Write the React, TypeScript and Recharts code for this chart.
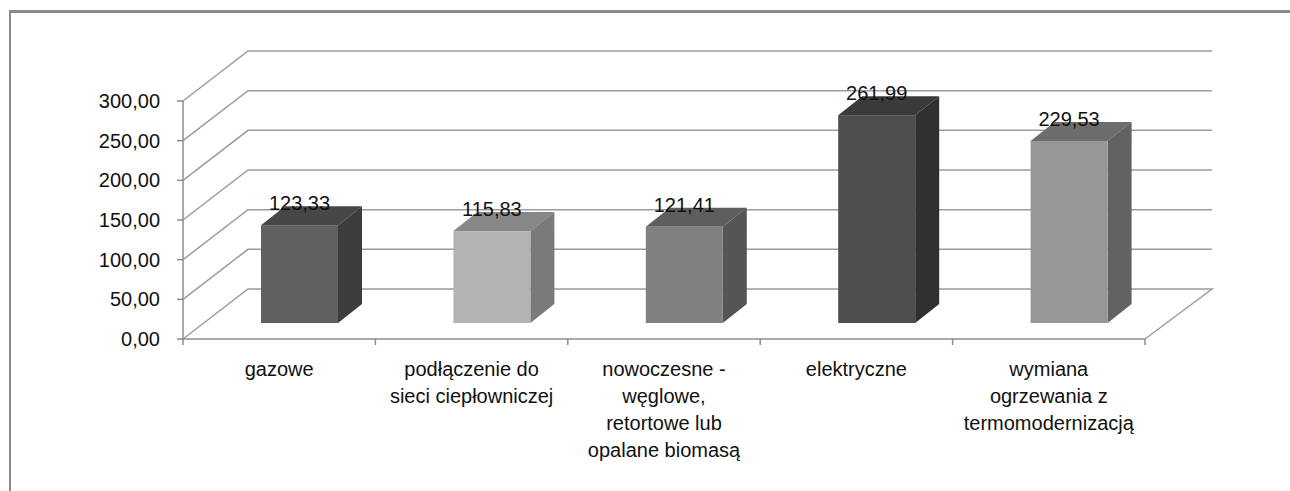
import React from "react";
import { BarChart, Bar, XAxis, YAxis, CartesianGrid, LabelList } from "recharts";

// heating type -> average cost
const categories = [
  "gazowe",
  "podłączenie do\nsieci ciepłowniczej",
  "nowoczesne -\nwęglowe,\nretortowe lub\nopalane biomasą",
  "elektryczne",
  "wymiana\nogrzewania z\ntermomodernizacją",
];
const values = [123.33, 115.83, 121.41, 261.99, 229.53];
const yTicks = [0, 50, 100, 150, 200, 250, 300];

const data = categories.map((name, i) => ({ name, value: values[i] }));

// front / top / side shade of each box
const frontColors = ["#606060", "#b3b3b3", "#808080", "#4e4e4e", "#979797"];
const topColors = ["#474747", "#878787", "#5e5e5e", "#3a3a3a", "#6d6d6d"];
const sideColors = ["#3d3d3d", "#7a7a7a", "#555555", "#303030", "#626262"];

const FONT = "'Liberation Sans', Arial, sans-serif";
const TEXT = "#111111";
const AXIS = "#8c8c8c";
const GRID = "#9c9c9c";

// fake 3d depth
const WALL_DX = 65;
const WALL_RIGHT_DX = 67;
const WALL_DY = 50;
const BAR_DX = 20;
const BAR_DY = 16;
const DEPTH_X = 24;
const DEPTH_Y = 19;

const fmt = (v: number) => v.toFixed(2).replace(".", ",");

const renderGridLine = (props: any) => {
  const { x1, x2, y1, y, height } = props;
  const by = y1 - WALL_DY;
  const isFloor = y1 >= y + height - 0.5;
  let pts = `${x1},${y1} ${x1 + WALL_DX},${by} ${x2 + WALL_RIGHT_DX},${by}`;
  if (isFloor) pts += ` ${x2},${y1}`;
  return <polyline key={props.key} points={pts} fill="none" stroke={GRID} strokeWidth={1.5} />;
};

const Box3D = (props: any) => {
  const { x, y, width, height, index } = props;
  const fx = x + BAR_DX;
  const fy = y - BAR_DY;
  const rx = fx + width;
  return (
    <g>
      <polygon
        points={`${fx},${fy} ${fx + DEPTH_X},${fy - DEPTH_Y} ${rx + DEPTH_X},${fy - DEPTH_Y} ${rx},${fy}`}
        fill={topColors[index]}
      />
      <polygon
        points={`${rx},${fy} ${rx + DEPTH_X},${fy - DEPTH_Y} ${rx + DEPTH_X},${fy + height - DEPTH_Y} ${rx},${fy + height}`}
        fill={sideColors[index]}
      />
      <rect x={fx} y={fy} width={width} height={height} fill={frontColors[index]} />
    </g>
  );
};

const renderValueLabel = (props: any) => {
  const { x, y, width, value } = props;
  return (
    <text
      x={Number(x) + Number(width) / 2 + BAR_DX}
      y={Number(y) - BAR_DY - 15}
      textAnchor="middle"
      fontSize={20}
      fontFamily={FONT}
      fill={TEXT}
    >
      {fmt(Number(value))}
    </text>
  );
};

const CategoryTick = (props: any) => {
  const { x, y, payload, index } = props;
  const half = payload.offset ?? 96.2;
  const lines = String(payload.value).split("\n");
  return (
    <g>
      <line x1={x - half} x2={x - half} y1={y} y2={y + 6} stroke={AXIS} strokeWidth={1.5} />
      {index === categories.length - 1 && (
        <line x1={x + half} x2={x + half} y1={y} y2={y + 6} stroke={AXIS} strokeWidth={1.5} />
      )}
      <text x={x} y={y + 37} textAnchor="middle" fontSize={20} fontFamily={FONT} fill={TEXT}>
        {lines.map((line, i) => (
          <tspan key={i} x={x} dy={i === 0 ? 0 : 27}>
            {line}
          </tspan>
        ))}
      </text>
    </g>
  );
};

export default function App() {
  return (
    <div
      style={{
        position: "fixed",
        left: 0,
        top: 0,
        width: 1290,
        height: 491,
        overflow: "hidden",
        background: "#fff",
      }}
    >
      <div
        style={{
          position: "absolute",
          left: 9,
          top: 10,
          width: 1400,
          height: 600,
          borderTop: "3px solid #8a8a8a",
          borderLeft: "2px solid #8a8a8a",
        }}
      />
      <BarChart
        width={1290}
        height={491}
        data={data}
        margin={{ top: 101, right: 145, bottom: 32, left: 0 }}
        style={{ position: "absolute", left: 0, top: 0 }}
      >
        <CartesianGrid vertical={false} horizontal={renderGridLine} />
        <XAxis
          dataKey="name"
          height={120}
          axisLine={{ stroke: AXIS, strokeWidth: 1.5 }}
          tickLine={false}
          tickSize={0}
          tickMargin={0}
          interval={0}
          tick={<CategoryTick />}
        />
        <YAxis
          width={183}
          domain={[0, 300]}
          ticks={yTicks}
          tickFormatter={fmt}
          axisLine={{ stroke: AXIS, strokeWidth: 1.5 }}
          tickLine={{ stroke: AXIS, strokeWidth: 1.5 }}
          tickSize={6}
          tickMargin={17}
          tick={{ fill: TEXT, fontSize: 20, fontFamily: FONT }}
        />
        <Bar dataKey="value" barSize={77} shape={<Box3D />} isAnimationActive={false}>
          <LabelList dataKey="value" content={renderValueLabel} />
        </Bar>
      </BarChart>
    </div>
  );
}
